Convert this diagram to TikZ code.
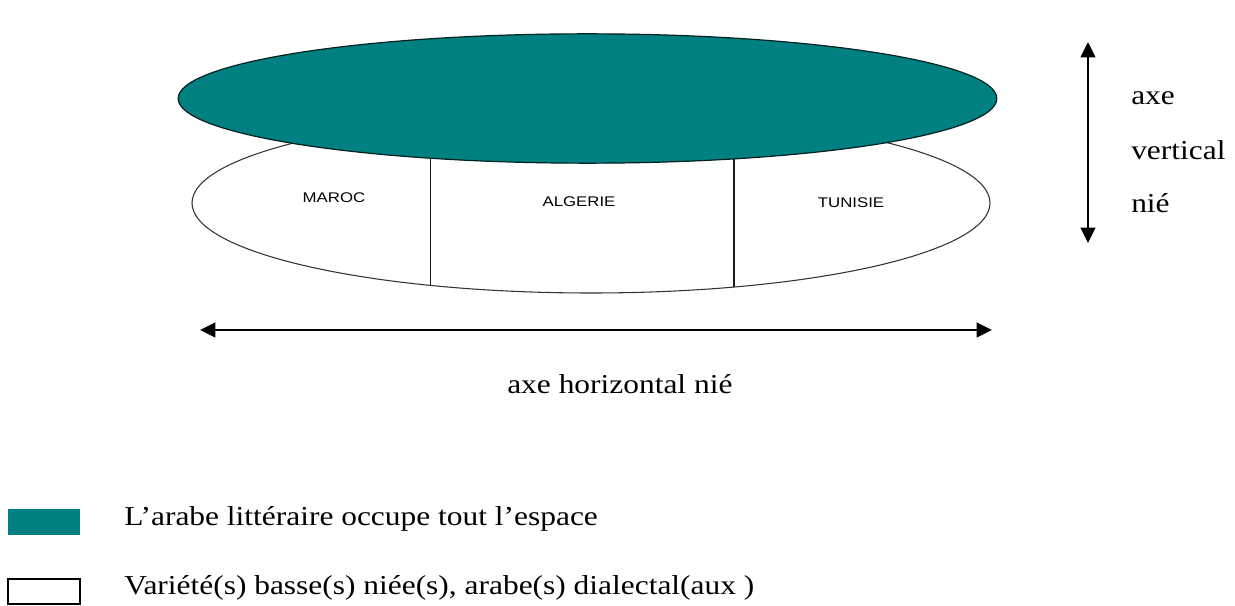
\documentclass[tikz,border=0pt]{standalone}
\usepackage{fontspec}
\setmainfont{Liberation Serif}
\newfontfamily\arialf{Liberation Sans}
\usetikzlibrary{arrows.meta,shapes.geometric}
\definecolor{tealc}{HTML}{008080}
\tikzset{
  serif/.style={anchor=base west, inner sep=0pt, font=\fontsize{20.5pt}{23pt}\selectfont},
  country/.style={anchor=base, inner sep=0pt, font=\arialf\fontsize{10.5pt}{12pt}\selectfont},
  axis/.style={line width=1.5pt, {Triangle[length=11.5pt,width=11pt]}-{Triangle[length=11.5pt,width=11pt]}},
  legbox/.style={minimum width=54pt, minimum height=19pt, inner sep=0pt},
  divider/.style={line width=1.3pt, black!90}
}
\newcommand{\wide}[1]{\scalebox{1.15}[1]{#1}}
\newcommand{\widesans}[1]{\scalebox{1.2}[1]{#1}}
\begin{document}
\begin{tikzpicture}[x=0.75pt,y=-0.75pt]
\useasboundingbox (0,0) rectangle (1235,606);
% white lower ellipse
\node[ellipse, draw=black!80, line width=0.8pt, fill=white, minimum width=598.5pt, minimum height=135pt, inner sep=0pt] (low) at (591,203) {};
\begin{scope}
  \clip (591,203) ellipse [x radius=399, y radius=90];
  \draw[divider] (430.5,120) -- (430.5,300);
  \draw[divider] (734,120) -- (734,300);
\end{scope}
% teal upper ellipse
\node[ellipse, draw=black!75!tealc, line width=0.9pt, fill=tealc, minimum width=614pt, minimum height=97pt, inner sep=0pt] (high) at (587.5,98.5) {};
% country labels
\node[country] (maroc) at (334,203) {\widesans{MAROC}};
\node[country] (alg) at (579,207) {\widesans{ALGERIE}};
\node[country] (tun) at (851,208) {\widesans{TUNISIE}};
% horizontal axis
\coordinate (hl) at (200,330);
\coordinate (hr) at (992,330);
\draw[axis] (hl) -- (hr);
\node[serif] (hlab) at (507,393) {\wide{axe horizontal nié}};
% vertical axis
\coordinate (vt) at (1088,42);
\coordinate (vb) at (1088,243);
\draw[axis] (vt) -- (vb);
\node[serif] (v1) at (1131,105) {\wide{axe}};
\node[serif] (v2) at (1131,160) {\wide{vertical}};
\node[serif] (v3) at (1131,213) {\wide{nié}};
% legend
\node[legbox, fill=tealc] (leg1) at (44,522) {};
\node[legbox, draw=black, line width=1.3pt, fill=white] (leg2) at (44,591.5) {};
\node[serif] (t1) at (124,525) {\wide{L’arabe littéraire occupe tout l’espace}};
\node[serif] (t2) at (124,594) {\wide{Variété(s) basse(s) niée(s), arabe(s) dialectal(aux )}};
\end{tikzpicture}
\end{document}
